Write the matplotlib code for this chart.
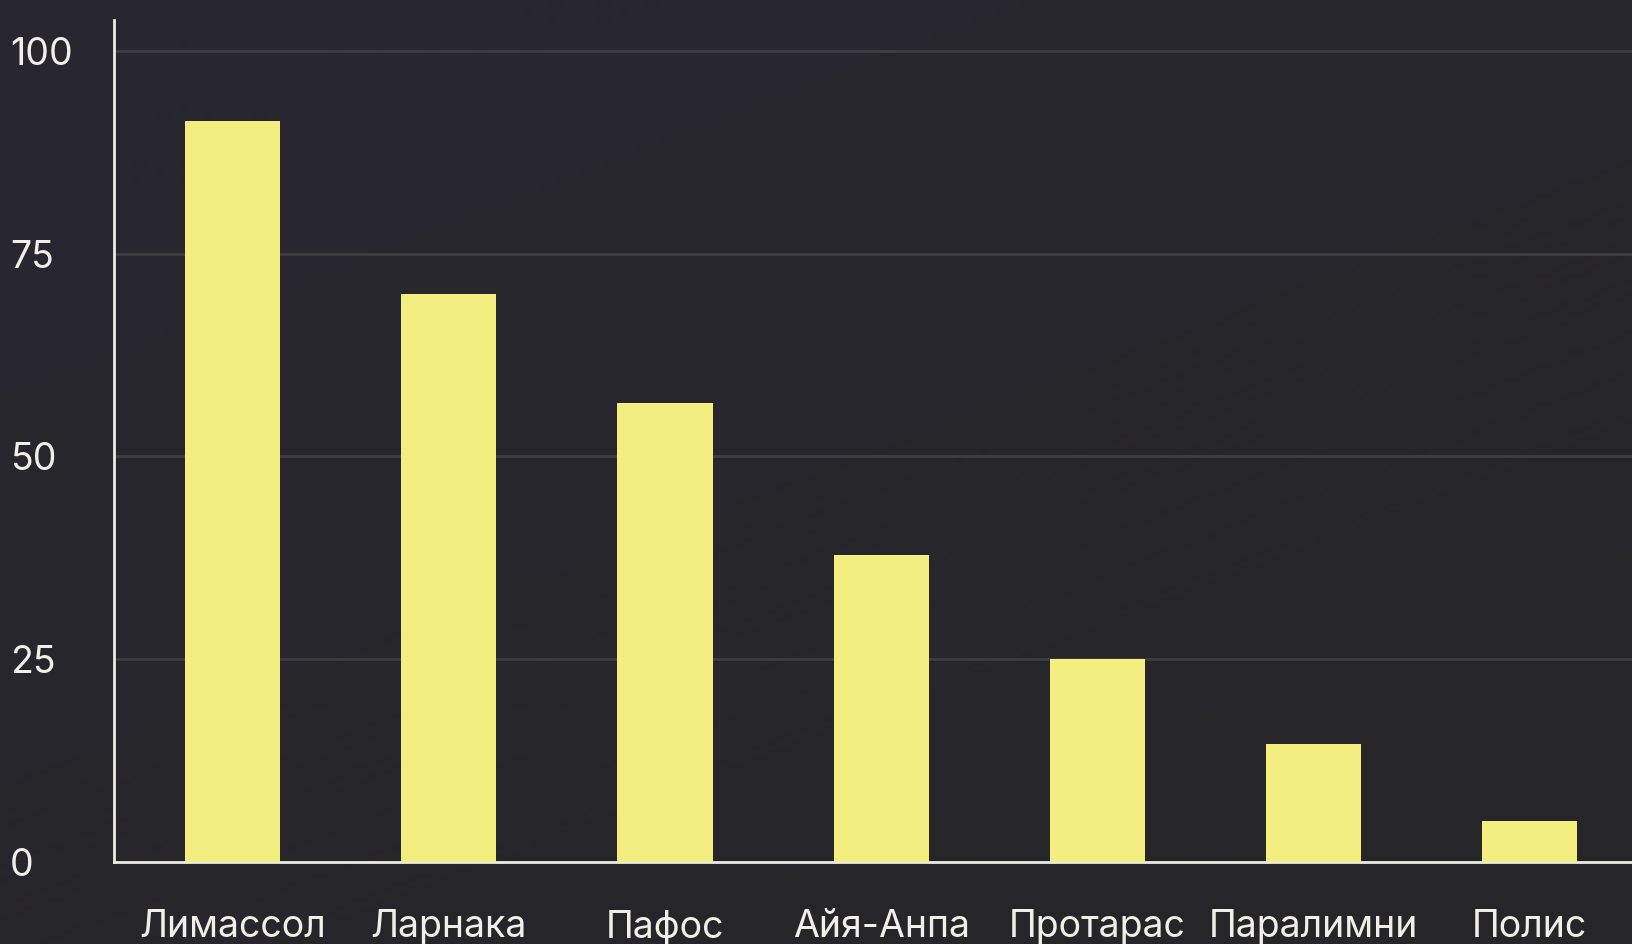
import matplotlib
matplotlib.use("Agg")
import matplotlib.pyplot as plt
import numpy as np

# Данные
cities = ["Лимассол", "Ларнака", "Пафос", "Айя-Анпа", "Протарас", "Паралимни", "Полис"]
values = [91.4, 70, 56.6, 37.8, 25, 14.5, 5]
yticks = [0, 25, 50, 75, 100]

plt.rcParams['font.family'] = ['Inter', 'DejaVu Sans']

fig = plt.figure(figsize=(16.33, 9.44), dpi=100)

# фон с лёгким градиентом
bg = fig.add_axes([0, 0, 1, 1], zorder=-10)
gx, gy = np.meshgrid(np.linspace(0, 1, 200), np.linspace(0, 1, 200))
g = np.clip(0.6 * gy + 0.4 * (1 - gx), 0, 1)
c_top = np.array([0x29, 0x26, 0x30]) / 255
c_bot = np.array([0x26, 0x26, 0x28]) / 255
img = c_bot[None, None, :] * (1 - g[..., None]) + c_top[None, None, :] * g[..., None]
bg.imshow(img, origin='lower', aspect='auto', extent=[0, 1, 0, 1])
bg.axis('off')

ax = fig.add_axes([114 / 1633, 1 - 862 / 944, 1 - 114 / 1633, (862 - 20) / 944])
ax.patch.set_alpha(0)

x = np.arange(len(cities))
ax.bar(x, values, width=0.44, color='#f4ee80', zorder=3)

ax.set_xlim(-0.55, 6.48)
ax.set_ylim(0, 103.8)
ax.set_xticks(x)
ax.set_xticklabels(cities)
ax.set_yticks(yticks)
ax.grid(axis='y', color='#3d3d42', linewidth=2, zorder=0)
ax.grid(axis='x', visible=False)

for s in ['top', 'right']:
    ax.spines[s].set_visible(False)
for s in ['left', 'bottom']:
    ax.spines[s].set_color('#ecebe4')
    ax.spines[s].set_linewidth(2)

ax.tick_params(axis='y', length=0, pad=75, labelsize=27, labelcolor='#f0efe8')
ax.tick_params(axis='x', length=0, pad=34, labelsize=27, labelcolor='#f0efe8')
for lab in ax.get_yticklabels():
    lab.set_horizontalalignment('left')

fig.savefig("out.png", dpi=100)
